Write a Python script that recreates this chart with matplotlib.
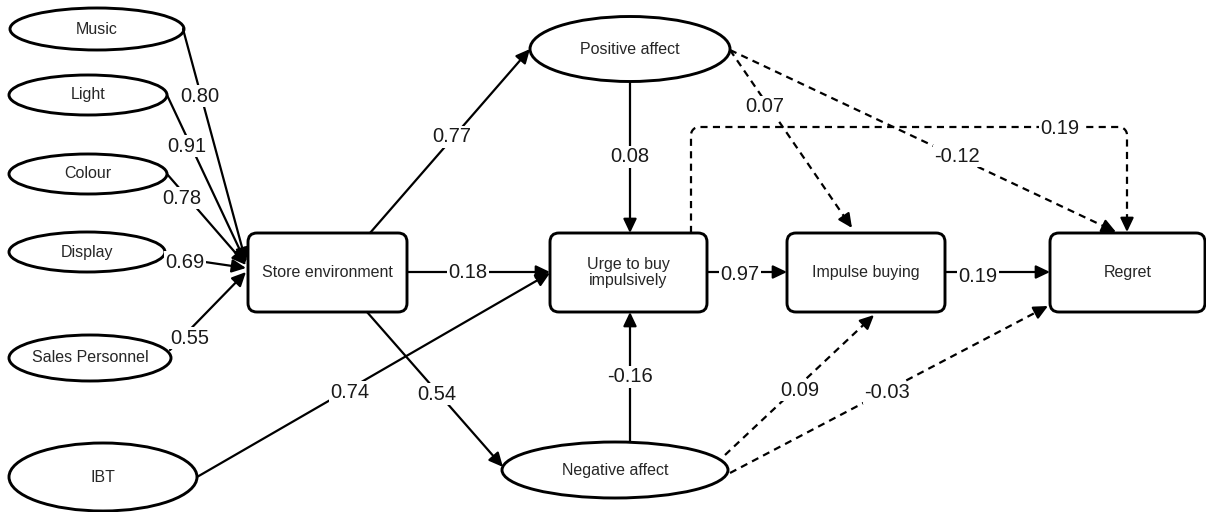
import matplotlib
matplotlib.use("Agg")
import matplotlib.pyplot as plt
from matplotlib.patches import Ellipse, FancyBboxPatch
import numpy as np

plt.rcParams['font.family'] = ['Liberation Sans', 'DejaVu Sans']

# ---- data ----
node_names = ["Music", "Light", "Colour", "Display", "Sales Personnel", "IBT",
              "Store environment", "Positive affect", "Urge to buy\nimpulsively",
              "Negative affect", "Impulse buying", "Regret"]
edge_src = ["Music", "Light", "Colour", "Display", "Sales Personnel",
            "Store environment", "Store environment", "Store environment", "IBT",
            "Positive affect", "Negative affect", "Urge to buy\nimpulsively", "Impulse buying",
            "Positive affect", "Positive affect", "Urge to buy\nimpulsively",
            "Negative affect", "Negative affect"]
edge_dst = ["Store environment"] * 5 + [
            "Positive affect", "Urge to buy\nimpulsively", "Negative affect", "Urge to buy\nimpulsively",
            "Urge to buy\nimpulsively", "Urge to buy\nimpulsively", "Impulse buying", "Regret",
            "Impulse buying", "Regret", "Regret",
            "Impulse buying", "Regret"]
coefs = ["0.80", "0.91", "0.78", "0.69", "0.55",
         "0.77", "0.18", "0.54", "0.74",
         "0.08", "-0.16", "0.97", "0.19",
         "0.07", "-0.12", "0.19",
         "0.09", "-0.03"]
significant = [True] * 13 + [False] * 5

# ---- layout (pixel coordinates, y downwards) ----
shapes = {
    "Music": ("ell", 97, 29, 174, 42),
    "Light": ("ell", 88, 95, 158, 40),
    "Colour": ("ell", 88, 174, 158, 40),
    "Display": ("ell", 87, 252, 156, 40),
    "Sales Personnel": ("ell", 90, 358, 162, 46),
    "IBT": ("ell", 103, 477, 188, 68),
    "Positive affect": ("ell", 630, 49, 200, 65),
    "Negative affect": ("ell", 615, 470, 226, 56),
    "Store environment": ("box", 327.5, 272.5, 159, 79),
    "Urge to buy\nimpulsively": ("box", 628.5, 272.5, 157, 79),
    "Impulse buying": ("box", 866, 272.5, 158, 79),
    "Regret": ("box", 1127.5, 272.5, 155, 79),
}
# edge geometry: start, end, label position
edge_geom = [
    ((183, 29), (246, 262), (200, 96)),
    ((167, 95), (246, 263), (187, 146)),
    ((167, 174), (246, 265), (182, 198)),
    ((164, 256), (246, 268), (185, 262)),
    ((170, 350), (246, 272), (190, 338)),
    ((370, 233), (530, 49), (452, 137)),
    ((407, 272), (550, 272), (468, 272)),
    ((367, 312), (503, 467), (437, 394)),
    ((197, 477), (550, 273), (350, 392)),
    ((630, 82), (630, 233), (630, 157)),
    ((630, 442), (630, 312), (630, 377)),
    ((707, 272), (787, 272), (740, 275)),
    ((945, 272), (1050, 272), (978, 276)),
    ((730, 50), (852, 228), (765, 107)),
    ((730, 50), (1116, 232), (957, 156)),
    ((691, 233), (1127, 232), (1060, 128)),   # elbow connector
    ((725, 455), (874, 315), (800, 390)),
    ((730, 473), (1048, 306), (887, 393)),
]
elbow_y = 127

W, H = 1206, 512
fig = plt.figure(figsize=(W / 100, H / 100), dpi=100)
ax = fig.add_axes([0, 0, 1, 1])
ax.set_xlim(0, W)
ax.set_ylim(H, 0)
ax.axis('off')

LW = 1.6
BLW = 2.1
HEAD = "-|>,head_length=0.42,head_width=0.2"
for name in node_names:
    kind, cx, cy, w, h = shapes[name]
    if kind == "ell":
        ax.add_patch(Ellipse((cx, cy), w, h, fill=False, lw=BLW, ec='black', zorder=3))
    else:
        ax.add_patch(FancyBboxPatch((cx - w / 2, cy - h / 2), w, h,
                                    boxstyle="round,pad=0,rounding_size=9",
                                    fill=False, lw=BLW, ec='black', zorder=3))
    ax.text(cx, cy, name, ha='center', va='center', fontsize=11.5, color='#262626',
            linespacing=1.0, zorder=4)


def arrow_head(p0, p1):
    ax.annotate("", xy=p1, xytext=p0,
                arrowprops=dict(arrowstyle=HEAD, color='black', lw=LW,
                                shrinkA=0, shrinkB=0, mutation_scale=20), zorder=5)


dash = (0, (3.2, 2.4))
for i, (src, dst) in enumerate(zip(edge_src, edge_dst)):
    (x0, y0), (x1, y1), (lx, ly) = edge_geom[i]
    if src.startswith("Urge") and dst == "Regret":
        r = 8
        xs = [x0, x0]
        ys = [y0, elbow_y + r]
        t = np.linspace(np.pi, 1.5 * np.pi, 10)
        xs += list(x0 + r + r * np.cos(t)); ys += list(elbow_y + r + r * np.sin(t))
        t = np.linspace(1.5 * np.pi, 2 * np.pi, 10)
        xs += list(x1 - r + r * np.cos(t)); ys += list(elbow_y + r + r * np.sin(t))
        xs += [x1, x1]
        ys += [elbow_y + r, y1 - 6]
        ax.plot(xs, ys, color='black', lw=LW, linestyle=dash, zorder=2)
        arrow_head((x1, y1 - 12), (x1, y1))
    elif significant[i]:
        ax.annotate("", xy=(x1, y1), xytext=(x0, y0),
                    arrowprops=dict(arrowstyle=HEAD, color='black', lw=LW,
                                    shrinkA=0, shrinkB=0, mutation_scale=20), zorder=2)
    else:
        d = np.hypot(x1 - x0, y1 - y0)
        ux, uy = (x1 - x0) / d, (y1 - y0) / d
        ax.plot([x0, x1 - 6 * ux], [y0, y1 - 6 * uy], color='black', lw=LW,
                linestyle=dash, zorder=2)
        arrow_head((x1 - 12 * ux, y1 - 12 * uy), (x1, y1))
    ax.text(lx, ly, coefs[i], ha='center', va='center', fontsize=14.5, color='#1a1a1a',
            zorder=6, bbox=dict(boxstyle='square,pad=0.05', fc='white', ec='none'))

fig.savefig("out.png", dpi=100, facecolor='white')
